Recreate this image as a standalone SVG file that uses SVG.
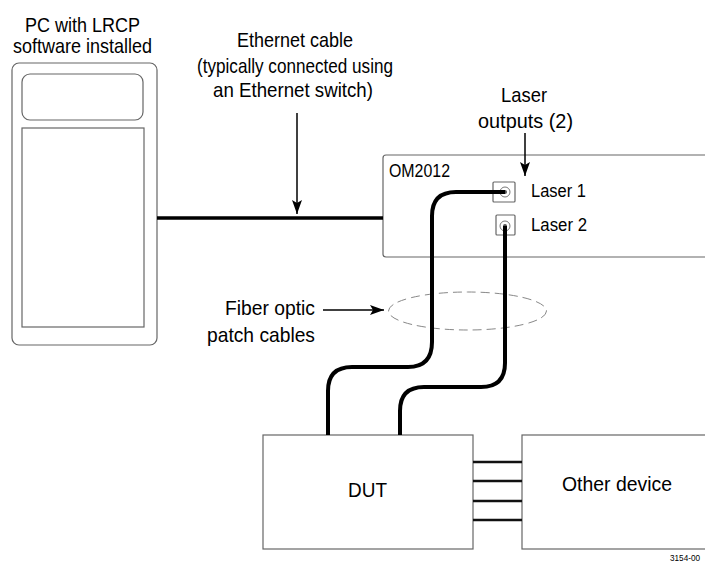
<svg xmlns="http://www.w3.org/2000/svg" width="705" height="566" viewBox="0 0 705 566">
<defs>
<style>
text{font-family:"Liberation Sans",Arial,sans-serif;fill:#000;}
.lbl{font-size:21px;}
.sm{font-size:17.5px;}
.box{fill:#fff;stroke:#666;stroke-width:1.2;}
.cable{fill:none;stroke:#000;stroke-width:4;stroke-linecap:butt;}
.thin{fill:none;stroke:#000;stroke-width:1.5;}
.bus{stroke:#111;stroke-width:2.5;}
</style>
<marker id="ah" viewBox="0 0 14 10" refX="14" refY="5" markerWidth="14" markerHeight="10" markerUnits="userSpaceOnUse" orient="auto">
<path d="M0,0 L14,5 L0,10 L3,5 z" fill="#000"/>
</marker>
</defs>

<g id="pc">
<rect class="box" x="12" y="63" width="145" height="282" rx="7"/>
<rect class="box" x="22" y="74" width="121" height="46" rx="8"/>
<rect class="box" x="22" y="128" width="122" height="199"/>
<text class="lbl" x="82.5" y="32" text-anchor="middle" textLength="115" lengthAdjust="spacingAndGlyphs">PC with LRCP</text>
<text class="lbl" x="82.5" y="53" text-anchor="middle" textLength="139" lengthAdjust="spacingAndGlyphs">software installed</text>
</g>

<g id="om2012">
<rect class="box" x="383" y="155" width="330" height="102" rx="3"/>
<text class="sm" x="389" y="177" textLength="61" lengthAdjust="spacingAndGlyphs">OM2012</text>
<rect class="box" x="493" y="182" width="22" height="20" rx="1"/>
<circle cx="505" cy="192" r="5" fill="#fff" stroke="#777" stroke-width="1"/>
<circle cx="505" cy="192" r="2" fill="#555"/>
<rect class="box" x="496" y="215" width="19" height="20" rx="1"/>
<circle cx="505" cy="226" r="5" fill="#fff" stroke="#777" stroke-width="1"/>
<circle cx="505" cy="226" r="2" fill="#555"/>
<text class="sm" x="531" y="197" textLength="55" lengthAdjust="spacingAndGlyphs">Laser  1</text>
<text class="sm" x="531" y="231" textLength="56" lengthAdjust="spacingAndGlyphs">Laser  2</text>
</g>

<g id="dut">
<rect class="box" x="263" y="435" width="210" height="114"/>
<text class="lbl" x="367.5" y="497" text-anchor="middle" textLength="39" lengthAdjust="spacingAndGlyphs">DUT</text>
</g>

<g id="other-device">
<rect class="box" x="522" y="435" width="200" height="114"/>
<text class="lbl" x="617" y="491" text-anchor="middle" textLength="110" lengthAdjust="spacingAndGlyphs">Other device</text>
</g>

<g id="labels">
<text class="lbl" x="295" y="47" text-anchor="middle" textLength="116" lengthAdjust="spacingAndGlyphs">Ethernet cable</text>
<text class="lbl" x="295" y="73" text-anchor="middle" textLength="196" lengthAdjust="spacingAndGlyphs">(typically connected using</text>
<text class="lbl" x="293" y="97" text-anchor="middle" textLength="160" lengthAdjust="spacingAndGlyphs">an Ethernet switch)</text>
<text class="lbl" x="524" y="102" text-anchor="middle" textLength="46" lengthAdjust="spacingAndGlyphs">Laser</text>
<text class="lbl" x="525.5" y="128" text-anchor="middle" textLength="95" lengthAdjust="spacingAndGlyphs">outputs (2)</text>
<text class="lbl" x="315" y="315" text-anchor="end" textLength="90" lengthAdjust="spacingAndGlyphs">Fiber optic</text>
<text class="lbl" x="315" y="342" text-anchor="end" textLength="108" lengthAdjust="spacingAndGlyphs">patch cables</text>
<text x="670" y="561" font-size="9" textLength="30" lengthAdjust="spacingAndGlyphs">3154-00</text>
</g>

<g id="connectors">
<line x1="157" y1="218" x2="383" y2="218" stroke="#000" stroke-width="3.5"/>
<line class="thin" x1="297" y1="113" x2="297" y2="214" marker-end="url(#ah)"/>
<line class="thin" x1="525" y1="133" x2="525" y2="176" marker-end="url(#ah)"/>
<line class="thin" x1="323" y1="310" x2="384" y2="310" marker-end="url(#ah)"/>
<ellipse cx="467.5" cy="311" rx="79" ry="19" fill="none" stroke="#888" stroke-width="1" stroke-dasharray="9,5"/>
<path class="cable" d="M505,192 H456 Q432,192 432,216 V342 Q432,367 408,367 H352 Q328,367 328,391 V435"/>
<path class="cable" d="M505,226 V363 Q505,387 481,387 H424 Q400,387 400,411 V435"/>
<line class="bus" x1="473" y1="462" x2="522" y2="462"/>
<line class="bus" x1="473" y1="481" x2="522" y2="481"/>
<line class="bus" x1="473" y1="501" x2="522" y2="501"/>
<line class="bus" x1="473" y1="520" x2="522" y2="520"/>
</g>
</svg>
